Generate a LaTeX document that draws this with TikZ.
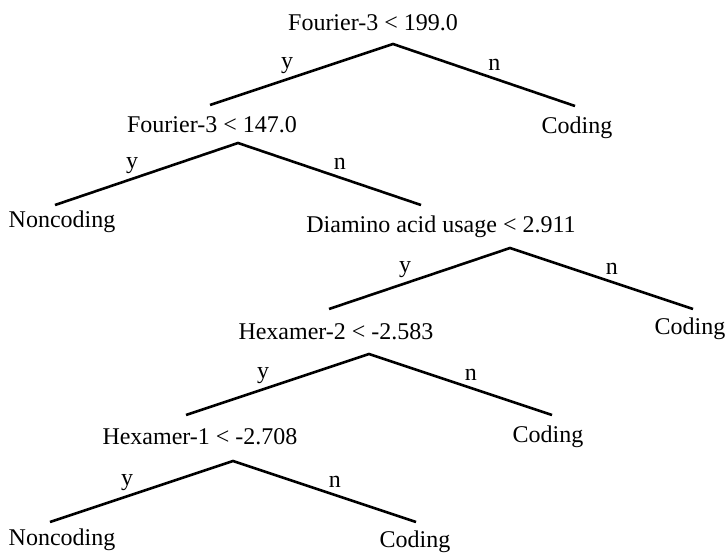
\documentclass[tikz,border=0pt]{standalone}
\usepackage{fontspec}
\setmainfont{Liberation Serif}
\usepackage{amssymb}
\usepackage{amsmath}

\begin{document}
\begin{tikzpicture}[x=0.5pt,y=-0.5pt,font=\fontsize{12}{14}\selectfont,
br/.style={line width=1.3pt},
yes/.style={midway,anchor=south east,inner sep=0pt,xshift=-4pt},
no/.style={midway,anchor=south west,inner sep=0pt,xshift=2pt,yshift=2pt}]
\useasboundingbox (0,0) rectangle (726,552);
\node (r) at (373,23) {Fourier-3 < 199.0};
\node (a) at (212,125) {Fourier-3 < 147.0};
\node (c1) at (577,128) {Coding};
\node (n1) at (62,222) {Noncoding};
\node (d) at (441,227) {Diamino acid usage < 2.911};
\node (h2) at (336,332) {Hexamer-2 < -2.583};
\node (c2) at (690,329) {Coding};
\node (h1) at (200,437) {Hexamer-1 < -2.708};
\node (c3) at (548,437) {Coding};
\node (n2) at (62,540) {Noncoding};
\node (c4) at (415,542) {Coding};
\coordinate (r-tip) at (393,44);
\coordinate (a-tip) at (238,143);
\coordinate (d-tip) at (510,248);
\coordinate (h2-tip) at (369,354);
\coordinate (h1-tip) at (233,461);
\coordinate (a-top) at (210,105);
\coordinate (c1-top) at (575,106);
\coordinate (n1-top) at (55,205);
\coordinate (d-top) at (421,205);
\coordinate (h2-top) at (329,309);
\coordinate (c2-top) at (693,309);
\coordinate (h1-top) at (186,415);
\coordinate (c3-top) at (552,415);
\coordinate (n2-top) at (50,522);
\coordinate (c4-top) at (416,522);
\foreach \p/\l/\r in {r/a/c1,a/n1/d,d/h2/c2,h2/h1/c3,h1/n2/c4} {
\draw[br] (\l-top) -- (\p-tip) -- (\r-top);
\path (\l-top) -- (\p-tip) node[yes] {y};
\path (\p-tip) -- (\r-top) node[no] {n};
}
\end{tikzpicture}
\end{document}
